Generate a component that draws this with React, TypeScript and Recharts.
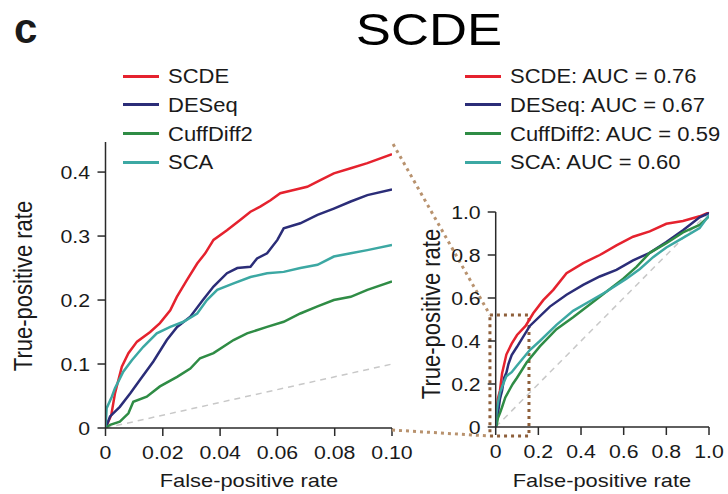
import React from "react";
import { LineChart, Line, XAxis, YAxis, ReferenceLine, ReferenceArea } from "recharts";

const FONT = '"Liberation Sans", Arial, Helvetica, sans-serif';

const seriesNames = ["SCDE", "DESeq", "CuffDiff2", "SCA"];
const seriesColors = ["#e5222e", "#2b2d78", "#2f8c45", "#3ca8a3"];
const aucValues = ["0.76", "0.67", "0.59", "0.60"];

const zoomXTicks = [0, 0.02, 0.04, 0.06, 0.08, 0.1];
const zoomYTicks = [0, 0.1, 0.2, 0.3, 0.4];
const fullTicks = [0, 0.2, 0.4, 0.6, 0.8, 1.0];

// Zoomed panel (FPR 0 - 0.10): [fpr, tpr]
const scdeZoom: [number, number][] = [
  [0, 0], [0.002, 0.02], [0.0033, 0.054], [0.0057, 0.096], [0.008, 0.117], [0.011, 0.135],
  [0.0156, 0.15], [0.019, 0.164], [0.0226, 0.184], [0.0249, 0.205], [0.0284, 0.231],
  [0.032, 0.257], [0.0348, 0.273], [0.0377, 0.294], [0.0424, 0.309], [0.047, 0.325],
  [0.0506, 0.338], [0.054, 0.346], [0.0576, 0.356], [0.061, 0.367], [0.0657, 0.372],
  [0.0704, 0.377], [0.075, 0.3875], [0.0797, 0.398], [0.0856, 0.406], [0.0914, 0.414], [0.1, 0.428],
];
const deseqZoom: [number, number][] = [
  [0, 0], [0.0016, 0.018], [0.005, 0.033], [0.0086, 0.054], [0.012, 0.075], [0.0167, 0.104],
  [0.0214, 0.1375], [0.025, 0.158], [0.0296, 0.174], [0.034, 0.2], [0.0377, 0.221],
  [0.0424, 0.242], [0.046, 0.25], [0.0506, 0.252], [0.0529, 0.265], [0.0564, 0.273],
  [0.06, 0.294], [0.0622, 0.312], [0.068, 0.32], [0.074, 0.333], [0.0797, 0.343],
  [0.0856, 0.354], [0.0914, 0.364], [0.1, 0.373],
];
const cuffZoom: [number, number][] = [
  [0, 0], [0.0016, 0.005], [0.005, 0.01], [0.008, 0.023], [0.0097, 0.041], [0.0144, 0.049],
  [0.019, 0.065], [0.025, 0.08], [0.0296, 0.093], [0.033, 0.109], [0.0377, 0.117],
  [0.0447, 0.1375], [0.0494, 0.148], [0.0564, 0.158], [0.0622, 0.166], [0.068, 0.179],
  [0.074, 0.19], [0.0797, 0.2], [0.0856, 0.205], [0.0914, 0.216], [0.1, 0.229],
];
const scaZoom: [number, number][] = [
  [0, 0], [0.0004, 0.031], [0.0022, 0.049], [0.0033, 0.062], [0.0062, 0.088], [0.0092, 0.106],
  [0.0132, 0.127], [0.0179, 0.148], [0.0226, 0.158], [0.0272, 0.166], [0.032, 0.179],
  [0.0354, 0.2], [0.039, 0.216], [0.0447, 0.226], [0.0506, 0.236], [0.0564, 0.242],
  [0.0622, 0.244], [0.068, 0.25], [0.074, 0.255], [0.0797, 0.268], [0.0856, 0.273],
  [0.0914, 0.278], [0.1, 0.286],
];

// Full panel (FPR 0 - 1): [fpr, tpr]
const scdeFull: [number, number][] = [
  [0, 0], [0.005, 0.07], [0.01, 0.13], [0.02, 0.17], [0.03, 0.25], [0.05, 0.337],
  [0.075, 0.388], [0.1, 0.428], [0.14, 0.47], [0.176, 0.529], [0.223, 0.59], [0.27, 0.638],
  [0.332, 0.715], [0.41, 0.762], [0.488, 0.8], [0.566, 0.845], [0.644, 0.885], [0.722, 0.91],
  [0.8, 0.945], [0.878, 0.958], [0.956, 0.98], [1, 0.998],
];
const deseqFull: [number, number][] = [
  [0, 0], [0.01, 0.06], [0.02, 0.13], [0.03, 0.17], [0.04, 0.23], [0.05, 0.252],
  [0.06, 0.294], [0.075, 0.335], [0.1, 0.373], [0.16, 0.47], [0.254, 0.56], [0.332, 0.615],
  [0.41, 0.661], [0.488, 0.7], [0.566, 0.731], [0.644, 0.775], [0.722, 0.81], [0.8, 0.86],
  [0.878, 0.915], [0.956, 0.975], [1, 0.995],
];
const cuffFull: [number, number][] = [
  [0, 0], [0.005, 0.01], [0.01, 0.04], [0.02, 0.065], [0.03, 0.093], [0.045, 0.1375],
  [0.068, 0.179], [0.08, 0.2], [0.1, 0.229], [0.145, 0.3], [0.207, 0.375], [0.285, 0.455],
  [0.363, 0.51], [0.441, 0.57], [0.52, 0.63], [0.598, 0.69], [0.66, 0.745], [0.722, 0.81],
  [0.8, 0.855], [0.878, 0.905], [0.956, 0.94], [1, 0.98],
];
const scaFull: [number, number][] = [
  [0, 0], [0.002, 0.05], [0.005, 0.075], [0.01, 0.11], [0.02, 0.16], [0.035, 0.2],
  [0.05, 0.236], [0.075, 0.255], [0.1, 0.286], [0.16, 0.358], [0.207, 0.4], [0.285, 0.475],
  [0.363, 0.54], [0.441, 0.585], [0.52, 0.63], [0.613, 0.69], [0.676, 0.735], [0.738, 0.79],
  [0.8, 0.835], [0.878, 0.88], [0.956, 0.925], [1, 0.985],
];

const zoomSeries = [scdeZoom, deseqZoom, cuffZoom, scaZoom];
const fullSeries = [scdeFull, deseqFull, cuffFull, scaFull];

const toPts = (arr: [number, number][]) => arr.map(([x, y]) => ({ x, y }));

const fmtZoomX = (v: number) => (v === 0 ? "0" : v.toFixed(2));
const fmtZoomY = (v: number) => (v === 0 ? "0" : v.toFixed(1));
const fmtFull = (v: number) => (v === 0 ? "0" : v.toFixed(1));

const STRETCH = 1.15;
const TICK_FS = 18.5;
const AXIS_COLOR = "#2a2a2a";

const XTick = (props: any) => {
  const { x, y, payload, fmt } = props;
  return (
    <text
      x={0}
      y={0}
      dy="0.71em"
      textAnchor="middle"
      transform={`translate(${x},${y}) scale(${STRETCH},1)`}
      fontSize={TICK_FS}
      fontFamily={FONT}
      fill="#1a1a1a"
    >
      {fmt(payload.value)}
    </text>
  );
};

const YTick = (props: any) => {
  const { x, y, payload, fmt } = props;
  return (
    <text
      x={0}
      y={0}
      dy="0.355em"
      textAnchor="end"
      transform={`translate(${x},${y}) scale(${STRETCH},1)`}
      fontSize={TICK_FS}
      fontFamily={FONT}
      fill="#1a1a1a"
    >
      {fmt(payload.value)}
    </text>
  );
};

const axisLine = { stroke: AXIS_COLOR, strokeWidth: 1.5 };
const tickLine = { stroke: AXIS_COLOR, strokeWidth: 1.5 };

const Legend = ({ left, textLeft, labels }: { left: number; textLeft: number; labels: string[] }) => (
  <>
    {labels.map((lab, i) => {
      const cy = 76 + i * 28.7;
      return (
        <React.Fragment key={lab}>
          <div
            style={{
              position: "absolute",
              left,
              top: cy - 1.5,
              width: 36,
              height: 3,
              background: seriesColors[i],
            }}
          />
          <div
            style={{
              position: "absolute",
              left: textLeft,
              top: cy - 11.8,
              fontSize: 20,
              lineHeight: "24px",
              whiteSpace: "nowrap",
              color: "#1a1a1a",
              transform: "scaleX(1.1)",
              transformOrigin: "left center",
            }}
          >
            {lab}
          </div>
        </React.Fragment>
      );
    })}
  </>
);

const XTitle = ({ cx }: { cx: number }) => (
  <div
    style={{
      position: "absolute",
      left: cx - 150,
      width: 300,
      top: 471,
      fontSize: 19,
      lineHeight: "19px",
      textAlign: "center",
      whiteSpace: "nowrap",
      color: "#1a1a1a",
      transform: `scaleX(${STRETCH})`,
    }}
  >
    False-positive rate
  </div>
);

const YTitle = ({ cx, cy }: { cx: number; cy: number }) => (
  <div
    style={{
      position: "absolute",
      left: cx - 130,
      width: 260,
      top: cy - 11,
      height: 22,
      fontSize: 22,
      lineHeight: "22px",
      textAlign: "center",
      whiteSpace: "nowrap",
      color: "#1a1a1a",
      transform: `scaleX(${STRETCH}) rotate(-90deg)`,
      transformOrigin: "center center",
    }}
  >
    True-positive rate
  </div>
);

export default function App() {
  return (
    <div
      style={{
        position: "absolute",
        left: 0,
        top: 0,
        width: 728,
        height: 494,
        background: "#fff",
        fontFamily: FONT,
        overflow: "hidden",
      }}
    >
      {/* Left zoomed panel */}
      <div style={{ position: "absolute", left: 0, top: 0 }}>
        <LineChart width={420} height={494} margin={{ top: 142, right: 28, left: 0, bottom: 0 }}>
          <XAxis
            type="number"
            dataKey="x"
            domain={[0, 0.1]}
            ticks={zoomXTicks}
            allowDataOverflow
            height={66}
            tickSize={8}
            tickMargin={10}
            axisLine={axisLine}
            tickLine={tickLine}
            tick={(p: any) => <XTick {...p} fmt={fmtZoomX} />}
          />
          <YAxis
            type="number"
            dataKey="y"
            domain={[0, 0.447]}
            ticks={zoomYTicks}
            allowDataOverflow
            width={105.5}
            tickSize={8}
            tickMargin={7.5}
            axisLine={axisLine}
            tickLine={tickLine}
            tick={(p: any) => <YTick {...p} fmt={fmtZoomY} />}
          />
          <ReferenceLine
            segment={[{ x: 0, y: 0 }, { x: 0.1, y: 0.1 }]}
            stroke="#c8c8c8"
            strokeWidth={1.5}
            strokeDasharray="6 5"
          />
          {zoomSeries.map((s, i) => (
            <Line
              key={seriesNames[i]}
              data={toPts(s)}
              dataKey="y"
              type="linear"
              dot={false}
              stroke={seriesColors[i]}
              strokeWidth={2.5}
              isAnimationActive={false}
            />
          ))}
        </LineChart>
      </div>

      {/* Right full panel */}
      <div style={{ position: "absolute", left: 380, top: 130 }}>
        <LineChart width={348} height={364} margin={{ top: 82, right: 19, left: 0, bottom: 0 }}>
          <XAxis
            type="number"
            dataKey="x"
            domain={[0, 1]}
            ticks={fullTicks}
            allowDataOverflow
            height={67}
            tickSize={8}
            tickMargin={10}
            axisLine={axisLine}
            tickLine={tickLine}
            tick={(p: any) => <XTick {...p} fmt={fmtFull} />}
          />
          <YAxis
            type="number"
            dataKey="y"
            domain={[0, 1]}
            ticks={fullTicks}
            allowDataOverflow
            width={115.7}
            tickSize={8}
            tickMargin={7}
            axisLine={axisLine}
            tickLine={tickLine}
            tick={(p: any) => <YTick {...p} fmt={fmtFull} />}
          />
          <ReferenceLine
            segment={[{ x: 0, y: 0 }, { x: 1, y: 1 }]}
            stroke="#c8c8c8"
            strokeWidth={1.5}
            strokeDasharray="6 5"
          />
          {fullSeries.map((s, i) => (
            <Line
              key={seriesNames[i]}
              data={toPts(s)}
              dataKey="y"
              type="linear"
              dot={false}
              stroke={seriesColors[i]}
              strokeWidth={2.5}
              isAnimationActive={false}
            />
          ))}
          <ReferenceArea
            x1={-0.027}
            x2={0.156}
            y1={-0.042}
            y2={0.521}
            ifOverflow="visible"
            fill="none"
            fillOpacity={0}
            stroke="#8e5f3a"
            strokeWidth={3}
            strokeDasharray="3 4"
          />
          <ReferenceLine
            segment={[{ x: -0.481, y: 1.316 }, { x: -0.027, y: 0.521 }]}
            ifOverflow="visible"
            stroke="#b8926e"
            strokeWidth={3}
            strokeDasharray="3 4"
          />
          <ReferenceLine
            segment={[{ x: -0.486, y: -0.014 }, { x: -0.027, y: -0.042 }]}
            ifOverflow="visible"
            stroke="#b8926e"
            strokeWidth={3}
            strokeDasharray="3 4"
          />
        </LineChart>
      </div>

      {/* Panel letter and title */}
      <div
        style={{
          position: "absolute",
          left: 14,
          top: 9,
          fontSize: 42,
          lineHeight: "40px",
          fontWeight: "bold",
          color: "#1a1a1a",
        }}
      >
        c
      </div>
      <div
        style={{
          position: "absolute",
          left: 429,
          top: 7,
          fontSize: 45,
          lineHeight: "45px",
          color: "#000",
          whiteSpace: "nowrap",
          transform: "translateX(-50%) scaleX(1.17)",
        }}
      >
        SCDE
      </div>

      <Legend left={123} textLeft={168} labels={seriesNames} />
      <Legend
        left={465}
        textLeft={510}
        labels={seriesNames.map((n, i) => `${n}: AUC = ${aucValues[i]}`)}
      />

      <XTitle cx={248.6} />
      <XTitle cx={602} />
      <YTitle cx={24.4} cy={286} />
      <YTitle cx={432.4} cy={314} />
    </div>
  );
}
